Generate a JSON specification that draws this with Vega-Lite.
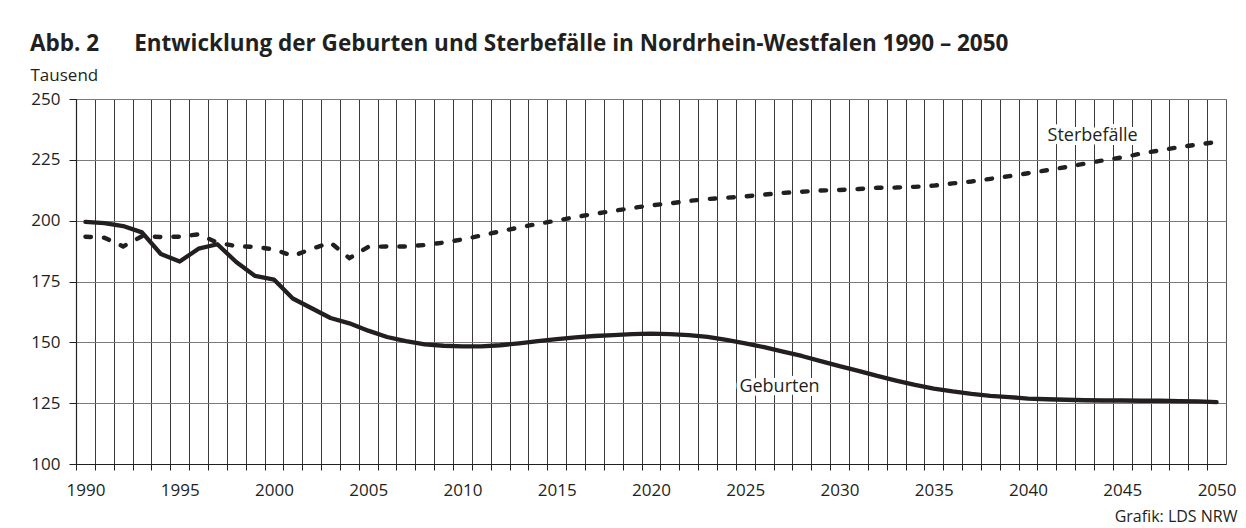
{
  "$schema": "https://vega.github.io/schema/vega-lite/v6.json",
  "width": 1150,
  "height": 365,
  "autosize": "none",
  "padding": {"left": 76, "top": 99, "right": 20, "bottom": 64},
  "background": "white",
  "config": {
    "font": "Open Sans",
    "view": {"stroke": "#555555", "strokeWidth": 1},
    "axis": {"labelColor": "#231f20", "titleColor": "#231f20", "domainColor": "#231f20", "tickColor": "#231f20", "domainWidth": 1.2}
  },
  "title": {
    "text": "Abb. 2\u00a0\u00a0\u00a0\u00a0\u00a0\u00a0Entwicklung der Geburten und Sterbefälle in Nordrhein-Westfalen 1990 – 2050",
    "anchor": "start",
    "frame": "group",
    "dx": -46,
    "fontSize": 22.5,
    "fontWeight": "bold",
    "color": "#231f20",
    "font": "Open Sans",
    "offset": 11
  },
  "data": {
    "values": [
      {"year": 1990, "series": "Geburten", "value": 199.5},
      {"year": 1991, "series": "Geburten", "value": 199.0},
      {"year": 1992, "series": "Geburten", "value": 197.8},
      {"year": 1993, "series": "Geburten", "value": 195.2},
      {"year": 1994, "series": "Geburten", "value": 186.3},
      {"year": 1995, "series": "Geburten", "value": 183.2},
      {"year": 1996, "series": "Geburten", "value": 188.5},
      {"year": 1997, "series": "Geburten", "value": 190.3},
      {"year": 1998, "series": "Geburten", "value": 183.0},
      {"year": 1999, "series": "Geburten", "value": 177.3},
      {"year": 2000, "series": "Geburten", "value": 175.8},
      {"year": 2001, "series": "Geburten", "value": 168.0},
      {"year": 2002, "series": "Geburten", "value": 164.0},
      {"year": 2003, "series": "Geburten", "value": 160.0},
      {"year": 2004, "series": "Geburten", "value": 157.8},
      {"year": 2005, "series": "Geburten", "value": 154.8},
      {"year": 2006, "series": "Geburten", "value": 152.2},
      {"year": 2007, "series": "Geburten", "value": 150.5},
      {"year": 2008, "series": "Geburten", "value": 149.2},
      {"year": 2009, "series": "Geburten", "value": 148.6},
      {"year": 2010, "series": "Geburten", "value": 148.3},
      {"year": 2011, "series": "Geburten", "value": 148.3},
      {"year": 2012, "series": "Geburten", "value": 148.8},
      {"year": 2013, "series": "Geburten", "value": 149.6},
      {"year": 2014, "series": "Geburten", "value": 150.5},
      {"year": 2015, "series": "Geburten", "value": 151.3},
      {"year": 2016, "series": "Geburten", "value": 152.0},
      {"year": 2017, "series": "Geburten", "value": 152.6},
      {"year": 2018, "series": "Geburten", "value": 153.0},
      {"year": 2019, "series": "Geburten", "value": 153.4},
      {"year": 2020, "series": "Geburten", "value": 153.6},
      {"year": 2021, "series": "Geburten", "value": 153.4},
      {"year": 2022, "series": "Geburten", "value": 153.0},
      {"year": 2023, "series": "Geburten", "value": 152.2},
      {"year": 2024, "series": "Geburten", "value": 151.0},
      {"year": 2025, "series": "Geburten", "value": 149.6},
      {"year": 2026, "series": "Geburten", "value": 148.0},
      {"year": 2027, "series": "Geburten", "value": 146.2},
      {"year": 2028, "series": "Geburten", "value": 144.4},
      {"year": 2029, "series": "Geburten", "value": 142.3},
      {"year": 2030, "series": "Geburten", "value": 140.2},
      {"year": 2031, "series": "Geburten", "value": 138.3},
      {"year": 2032, "series": "Geburten", "value": 136.2},
      {"year": 2033, "series": "Geburten", "value": 134.3},
      {"year": 2034, "series": "Geburten", "value": 132.5},
      {"year": 2035, "series": "Geburten", "value": 131.0},
      {"year": 2036, "series": "Geburten", "value": 129.8},
      {"year": 2037, "series": "Geburten", "value": 128.8},
      {"year": 2038, "series": "Geburten", "value": 128.0},
      {"year": 2039, "series": "Geburten", "value": 127.5},
      {"year": 2040, "series": "Geburten", "value": 126.9},
      {"year": 2041, "series": "Geburten", "value": 126.6},
      {"year": 2042, "series": "Geburten", "value": 126.4},
      {"year": 2043, "series": "Geburten", "value": 126.2},
      {"year": 2044, "series": "Geburten", "value": 126.1},
      {"year": 2045, "series": "Geburten", "value": 126.1},
      {"year": 2046, "series": "Geburten", "value": 126.0},
      {"year": 2047, "series": "Geburten", "value": 126.0},
      {"year": 2048, "series": "Geburten", "value": 125.8},
      {"year": 2049, "series": "Geburten", "value": 125.7},
      {"year": 2050, "series": "Geburten", "value": 125.4},
      {"year": 1990, "series": "Sterbefälle", "value": 193.4},
      {"year": 1991, "series": "Sterbefälle", "value": 193.0},
      {"year": 1992, "series": "Sterbefälle", "value": 189.4},
      {"year": 1993, "series": "Sterbefälle", "value": 193.6},
      {"year": 1994, "series": "Sterbefälle", "value": 193.3},
      {"year": 1995, "series": "Sterbefälle", "value": 193.4},
      {"year": 1996, "series": "Sterbefälle", "value": 194.4},
      {"year": 1997, "series": "Sterbefälle", "value": 191.0},
      {"year": 1998, "series": "Sterbefälle", "value": 189.5},
      {"year": 1999, "series": "Sterbefälle", "value": 189.2},
      {"year": 2000, "series": "Sterbefälle", "value": 188.2},
      {"year": 2001, "series": "Sterbefälle", "value": 185.5},
      {"year": 2002, "series": "Sterbefälle", "value": 188.4},
      {"year": 2003, "series": "Sterbefälle", "value": 191.0},
      {"year": 2004, "series": "Sterbefälle", "value": 184.6},
      {"year": 2005, "series": "Sterbefälle", "value": 189.2},
      {"year": 2006, "series": "Sterbefälle", "value": 189.4},
      {"year": 2007, "series": "Sterbefälle", "value": 189.4},
      {"year": 2008, "series": "Sterbefälle", "value": 190.0},
      {"year": 2009, "series": "Sterbefälle", "value": 191.0},
      {"year": 2010, "series": "Sterbefälle", "value": 192.3},
      {"year": 2011, "series": "Sterbefälle", "value": 193.9},
      {"year": 2012, "series": "Sterbefälle", "value": 195.6},
      {"year": 2013, "series": "Sterbefälle", "value": 197.2},
      {"year": 2014, "series": "Sterbefälle", "value": 198.7},
      {"year": 2015, "series": "Sterbefälle", "value": 200.0},
      {"year": 2016, "series": "Sterbefälle", "value": 201.5},
      {"year": 2017, "series": "Sterbefälle", "value": 202.8},
      {"year": 2018, "series": "Sterbefälle", "value": 204.0},
      {"year": 2019, "series": "Sterbefälle", "value": 205.2},
      {"year": 2020, "series": "Sterbefälle", "value": 206.3},
      {"year": 2021, "series": "Sterbefälle", "value": 207.1},
      {"year": 2022, "series": "Sterbefälle", "value": 208.1},
      {"year": 2023, "series": "Sterbefälle", "value": 208.9},
      {"year": 2024, "series": "Sterbefälle", "value": 209.4},
      {"year": 2025, "series": "Sterbefälle", "value": 210.0},
      {"year": 2026, "series": "Sterbefälle", "value": 210.7},
      {"year": 2027, "series": "Sterbefälle", "value": 211.4},
      {"year": 2028, "series": "Sterbefälle", "value": 211.9},
      {"year": 2029, "series": "Sterbefälle", "value": 212.4},
      {"year": 2030, "series": "Sterbefälle", "value": 212.6},
      {"year": 2031, "series": "Sterbefälle", "value": 213.0},
      {"year": 2032, "series": "Sterbefälle", "value": 213.5},
      {"year": 2033, "series": "Sterbefälle", "value": 213.6},
      {"year": 2034, "series": "Sterbefälle", "value": 213.9},
      {"year": 2035, "series": "Sterbefälle", "value": 214.4},
      {"year": 2036, "series": "Sterbefälle", "value": 215.3},
      {"year": 2037, "series": "Sterbefälle", "value": 216.1},
      {"year": 2038, "series": "Sterbefälle", "value": 217.2},
      {"year": 2039, "series": "Sterbefälle", "value": 218.3},
      {"year": 2040, "series": "Sterbefälle", "value": 219.5},
      {"year": 2041, "series": "Sterbefälle", "value": 220.7},
      {"year": 2042, "series": "Sterbefälle", "value": 222.0},
      {"year": 2043, "series": "Sterbefälle", "value": 223.4},
      {"year": 2044, "series": "Sterbefälle", "value": 224.8},
      {"year": 2045, "series": "Sterbefälle", "value": 226.0},
      {"year": 2046, "series": "Sterbefälle", "value": 227.6},
      {"year": 2047, "series": "Sterbefälle", "value": 228.9},
      {"year": 2048, "series": "Sterbefälle", "value": 230.2},
      {"year": 2049, "series": "Sterbefälle", "value": 231.3},
      {"year": 2050, "series": "Sterbefälle", "value": 232.3}
    ]
  },
  "encoding": {
    "x": {
      "field": "year",
      "type": "quantitative",
      "scale": {"domain": [1989.5, 2050.5], "nice": false, "zero": false},
      "axis": {
        "values": [1990,1991,1992,1993,1994,1995,1996,1997,1998,1999,2000,2001,2002,2003,2004,2005,2006,2007,2008,2009,2010,2011,2012,2013,2014,2015,2016,2017,2018,2019,2020,2021,2022,2023,2024,2025,2026,2027,2028,2029,2030,2031,2032,2033,2034,2035,2036,2037,2038,2039,2040,2041,2042,2043,2044,2045,2046,2047,2048,2049,2050],
        "format": "d",
        "labelExpr": "datum.value % 5 === 0 ? datum.label : ''",
        "tickOffset": -9.426,
        "labelOffset": 9.426,
        "labelOverlap": false,
        "labelFlush": false,
        "grid": true,
        "gridColor": "#3a3a3a",
        "gridWidth": 1,
        "tickSize": 6,
        "labelFontSize": 17,
        "labelPadding": 12,
        "title": "Grafik: LDS NRW",
        "titleX": 1161,
        "titleY": 57,
        "titleAlign": "right",
        "titleAnchor": null,
        "titleBaseline": "alphabetic",
        "titleFontWeight": "normal",
        "titleFontSize": 16
      }
    },
    "y": {
      "field": "value",
      "type": "quantitative",
      "scale": {"domain": [100, 250], "nice": false, "zero": false},
      "axis": {
        "values": [100, 125, 150, 175, 200, 225, 250],
        "grid": true,
        "gridColor": "#7a7a7a",
        "gridWidth": 1.2,
        "tickSize": 7,
        "labelPadding": 9,
        "labelFontSize": 17,
        "title": "Tausend",
        "titleAngle": 0,
        "titleX": -46,
        "titleY": -19,
        "titleAlign": "left",
        "titleAnchor": null,
        "titleBaseline": "alphabetic",
        "titleFontWeight": "normal",
        "titleFontSize": 17
      }
    }
  },
  "layer": [
    {
      "transform": [{"filter": "datum.series === 'Geburten'"}],
      "mark": {"type": "line", "color": "#231f20", "strokeWidth": 4.3, "strokeCap": "round", "strokeJoin": "round"}
    },
    {
      "transform": [{"filter": "datum.series === 'Sterbefälle'"}],
      "mark": {"type": "line", "color": "#231f20", "strokeWidth": 4.4, "strokeCap": "round", "strokeDash": [5.5, 13]}
    },
    {
      "transform": [{"filter": "datum.series === 'Sterbefälle' && datum.year === 2043"}],
      "mark": {"type": "text", "dx": 8, "dy": -23, "fontSize": 18, "align": "center", "baseline": "alphabetic", "fill": "white", "stroke": "white", "strokeWidth": 8, "strokeJoin": "round"},
      "encoding": {"text": {"field": "series"}}
    },
    {
      "transform": [{"filter": "datum.series === 'Sterbefälle' && datum.year === 2043"}],
      "mark": {"type": "text", "dx": 8, "dy": -23, "fontSize": 18, "align": "center", "baseline": "alphabetic", "color": "#231f20"},
      "encoding": {"text": {"field": "series"}}
    },
    {
      "transform": [{"filter": "datum.series === 'Geburten' && datum.year === 2027"}],
      "mark": {"type": "text", "dx": -3.5, "dy": 40, "fontSize": 18, "align": "center", "baseline": "alphabetic", "fill": "white", "stroke": "white", "strokeWidth": 8, "strokeJoin": "round"},
      "encoding": {"text": {"field": "series"}}
    },
    {
      "transform": [{"filter": "datum.series === 'Geburten' && datum.year === 2027"}],
      "mark": {"type": "text", "dx": -3.5, "dy": 40, "fontSize": 18, "align": "center", "baseline": "alphabetic", "color": "#231f20"},
      "encoding": {"text": {"field": "series"}}
    }
  ]
}
